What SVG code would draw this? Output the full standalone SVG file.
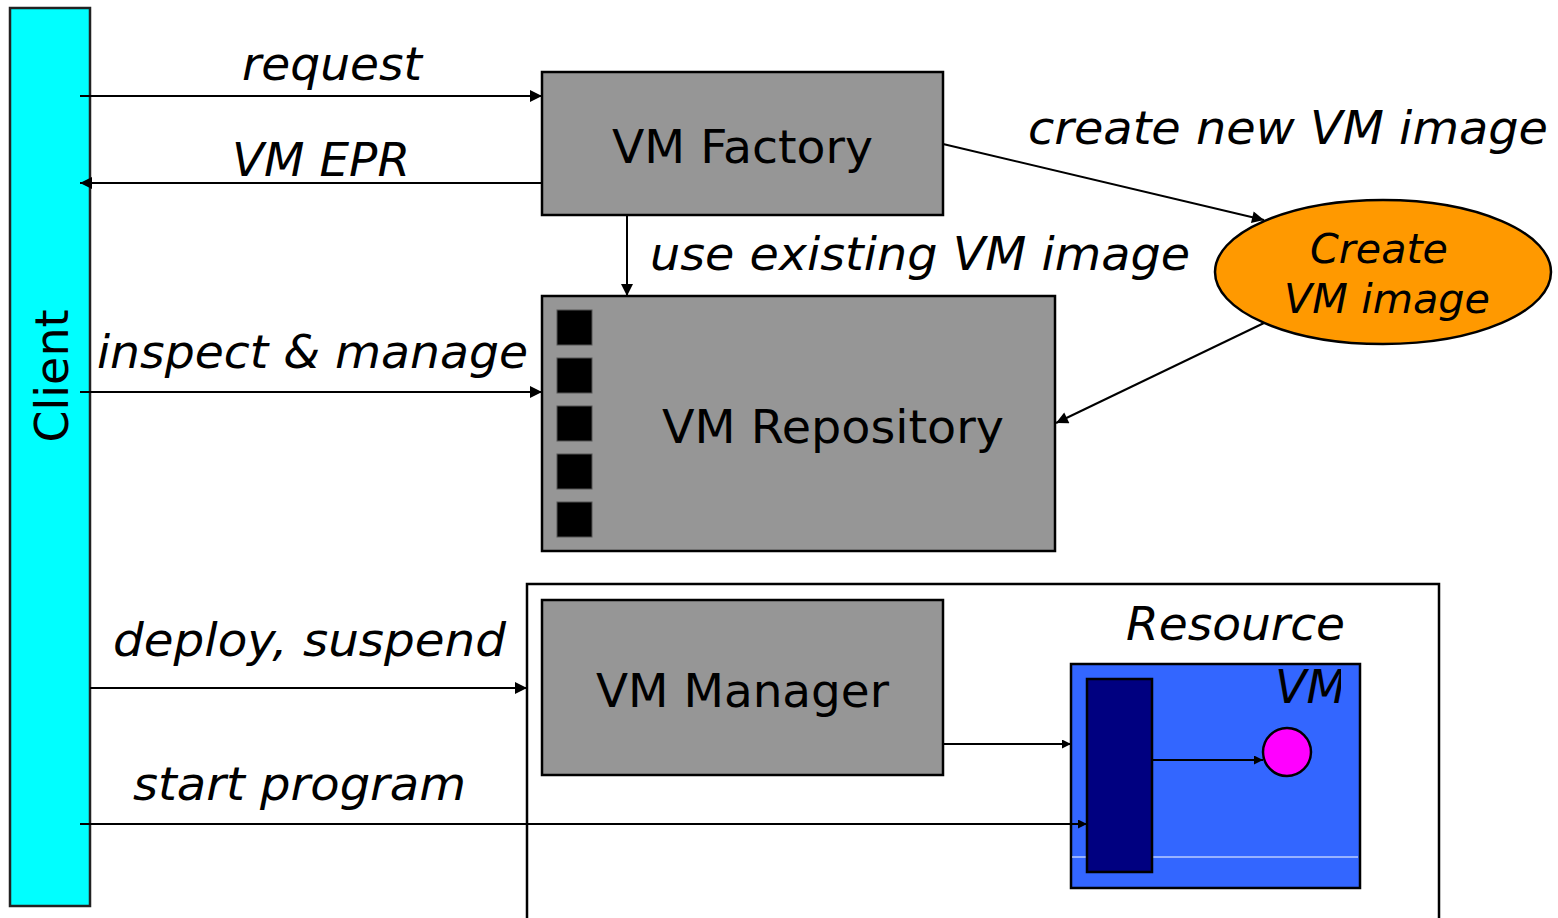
<svg xmlns="http://www.w3.org/2000/svg" width="1558" height="918" viewBox="0 0 1558 918">
<style>
text{font-family:"DejaVu Sans","Verdana",sans-serif;font-size:46px;fill:#000}
.it{font-style:italic}
.el{font-size:40px}
.box{fill:#969696;stroke:#000;stroke-width:2.5}
.ln{stroke:#000;stroke-width:2;fill:none}
.sq{fill:#000;stroke:#555;stroke-width:1}
</style>
<defs>
<marker id="ah" viewBox="0 0 10 10" refX="10" refY="5" markerWidth="14" markerHeight="12" markerUnits="userSpaceOnUse" orient="auto"><path d="M0,0L10,5L0,10z" fill="#000"/></marker>
<marker id="ahs" viewBox="0 0 10 10" refX="10" refY="5" markerWidth="11" markerHeight="9" markerUnits="userSpaceOnUse" orient="auto"><path d="M0,0L10,5L0,10z" fill="#000"/></marker>
<clipPath id="vmclip"><rect x="1071" y="660" width="270" height="60"/></clipPath>
</defs>
<rect width="1558" height="918" fill="#fff"/>
<g id="resource">
<rect x="527" y="584" width="912" height="340" fill="#fff" stroke="#000" stroke-width="2.5"/>
<text class="it" x="1126" y="640" textLength="219" lengthAdjust="spacingAndGlyphs">Resource</text>
</g>
<g id="client">
<rect x="10" y="8" width="80" height="898" fill="#00FFFF" stroke="#222" stroke-width="2.5"/>
<text transform="translate(68,376) rotate(-90)" text-anchor="middle">Client</text>
</g>
<g id="vm-factory">
<rect class="box" x="542" y="72" width="401" height="143"/>
<text x="612" y="163" textLength="261" lengthAdjust="spacingAndGlyphs">VM Factory</text>
</g>
<g id="vm-repository">
<rect class="box" x="542" y="296" width="513" height="255"/>
<rect class="sq" x="557" y="310" width="35" height="35"/>
<rect class="sq" x="557" y="358" width="35" height="35"/>
<rect class="sq" x="557" y="406" width="35" height="35"/>
<rect class="sq" x="557" y="454" width="35" height="35"/>
<rect class="sq" x="557" y="502" width="35" height="35"/>
<text x="662" y="443" textLength="342" lengthAdjust="spacingAndGlyphs">VM Repository</text>
</g>
<g id="create-vm-image">
<ellipse cx="1383" cy="272" rx="168" ry="72" fill="#FF9900" stroke="#000" stroke-width="2.5"/>
<text class="it el" x="1310" y="263" textLength="138" lengthAdjust="spacingAndGlyphs">Create</text>
<text class="it el" x="1284" y="313" textLength="206" lengthAdjust="spacingAndGlyphs">VM image</text>
</g>
<g id="vm-manager">
<rect class="box" x="542" y="600" width="401" height="175"/>
<text x="596" y="707" textLength="293" lengthAdjust="spacingAndGlyphs">VM Manager</text>
</g>
<g id="vm">
<rect x="1071" y="664" width="289" height="224" fill="#3366FF" stroke="#000" stroke-width="2.5"/>
<line x1="1072" y1="857" x2="1358" y2="857" stroke="#fff" stroke-width="1"/>
<text class="it" x="1275" y="703" clip-path="url(#vmclip)">VM</text>
</g>
<g id="vm-process">
<rect x="1087" y="679" width="65" height="193" fill="#000080" stroke="#000" stroke-width="2.5"/>
</g>
<g id="program">
<circle cx="1287" cy="752" r="24" fill="#FF00FF" stroke="#000" stroke-width="2.5"/>
</g>
<g id="connectors">
<line class="ln" x1="80" y1="96" x2="542" y2="96" marker-end="url(#ah)"/>
<text class="it" x="242" y="80" textLength="180" lengthAdjust="spacingAndGlyphs">request</text>
<line class="ln" x1="542" y1="183" x2="80" y2="183" marker-end="url(#ah)"/>
<text class="it" x="232" y="176" textLength="178" lengthAdjust="spacingAndGlyphs">VM EPR</text>
<line class="ln" x1="627" y1="215" x2="627" y2="296" marker-end="url(#ah)"/>
<text class="it" x="650" y="270" textLength="540" lengthAdjust="spacingAndGlyphs">use existing VM image</text>
<line class="ln" x1="80" y1="392" x2="542" y2="392" marker-end="url(#ah)"/>
<text class="it" x="97" y="368" textLength="431" lengthAdjust="spacingAndGlyphs">inspect &amp; manage</text>
<line class="ln" x1="943" y1="144" x2="1264" y2="220" marker-end="url(#ah)"/>
<text class="it" x="1028" y="144" textLength="520" lengthAdjust="spacingAndGlyphs">create new VM image</text>
<line class="ln" x1="1264" y1="323" x2="1056" y2="423" marker-end="url(#ah)"/>
<line class="ln" x1="90" y1="688" x2="527" y2="688" marker-end="url(#ah)"/>
<text class="it" x="113" y="656" textLength="393" lengthAdjust="spacingAndGlyphs">deploy, suspend</text>
<line class="ln" x1="80" y1="824" x2="1087" y2="824" marker-end="url(#ahs)"/>
<text class="it" x="133" y="800" textLength="333" lengthAdjust="spacingAndGlyphs">start program</text>
<line class="ln" x1="943" y1="744" x2="1071" y2="744" marker-end="url(#ahs)"/>
<line class="ln" x1="1152" y1="760" x2="1263" y2="760" marker-end="url(#ahs)"/>
</g>
</svg>
